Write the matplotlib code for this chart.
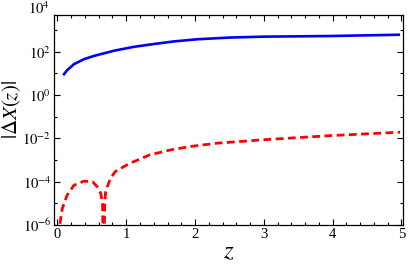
import numpy as np
import matplotlib
matplotlib.use("Agg")
import matplotlib.pyplot as plt
from matplotlib.ticker import FixedLocator, FixedFormatter, MultipleLocator, NullFormatter

plt.rcParams['font.family'] = ['Liberation Serif', 'DejaVu Serif']
plt.rcParams['mathtext.fontset'] = 'stix'

# values (log10 of |dX|)
z_blue = [0.084, 0.14, 0.24, 0.385, 0.53, 0.82, 1.11, 1.40, 1.69, 2.03,
          2.51, 2.99, 3.96, 4.98]
logx_blue = [0.92, 1.15, 1.43, 1.66, 1.81, 2.05, 2.23, 2.36, 2.48, 2.58,
             2.66, 2.70, 2.73, 2.79]

z_red = [0.036, 0.07, 0.14, 0.24, 0.385, 0.51, 0.58, 0.63, 0.655, 0.672,
         0.688, 0.70, 0.715, 0.77, 0.84, 0.92, 1.05, 1.34, 1.64, 1.93,
         2.31, 2.99, 3.96, 4.98]
logx_red = [-5.94, -5.24, -4.62, -4.16, -3.97, -4.0, -4.23, -4.54, -5.0, -8.0,
            -5.0, -4.47, -4.31, -3.85, -3.53, -3.38, -3.15, -2.76, -2.53, -2.37,
            -2.22, -2.06, -1.87, -1.71]

ytick_pos = [-6, -4, -2, 0, 2, 4]
ytick_lab = [r'$10^{%d}$' % p for p in ytick_pos]

fig = plt.figure(figsize=(4.09, 2.68), dpi=100)
ax = fig.add_axes([0.132, 0.160, 0.853, 0.784])

ax.plot(z_blue, 10.0 ** np.array(logx_blue), color='#0000ff', lw=1.9,
        solid_capstyle='butt')
ax.plot(z_red, 10.0 ** np.array(logx_red), color='#ff0000', lw=2.0,
        dashes=(2.8, 1.6))

ax.set_yscale('log')
ax.set_xlim(-0.05, 5.02)
ax.set_ylim(1e-6, 10 ** 3.7)

ax.xaxis.set_major_locator(MultipleLocator(1))
ax.xaxis.set_minor_locator(MultipleLocator(0.2))
ax.yaxis.set_major_locator(FixedLocator([10.0 ** p for p in ytick_pos]))
ax.yaxis.set_major_formatter(FixedFormatter(ytick_lab))
ax.yaxis.set_minor_locator(FixedLocator([10.0 ** p for p in range(-5, 4, 2)]))
ax.yaxis.set_minor_formatter(NullFormatter())

ax.tick_params(which='both', direction='in', top=True, right=True,
               labelsize=10.5, width=0.8)
ax.tick_params(which='major', length=4, pad=2)
ax.tick_params(which='minor', length=2.5)
for s in ax.spines.values():
    s.set_linewidth(0.9)

# 10^4 label sits just above the frame in the original
ax.text(-0.012, 1e4, r'$10^{4}$', transform=ax.get_yaxis_transform(),
        ha='right', va='center', fontsize=10.5, clip_on=False)

ax.set_xlabel(r'$z$', fontsize=18, labelpad=0)
ax.set_ylabel(r'$|\Delta X(z)|$', fontsize=15, va='center')
ax.yaxis.set_label_coords(-0.12, 0.55)

fig.savefig('out.png', dpi=100)
